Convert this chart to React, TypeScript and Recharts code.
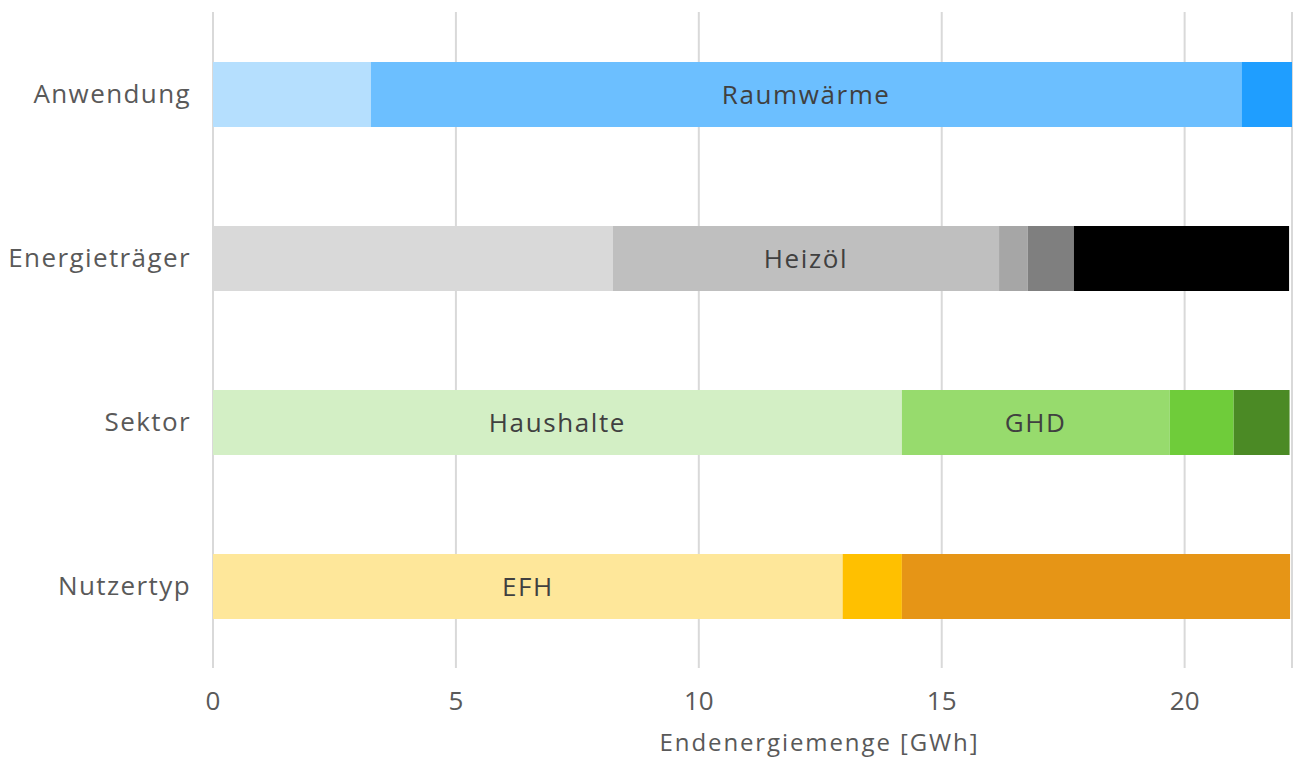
import * as React from "react";
import { BarChart, Bar, XAxis, YAxis, CartesianGrid, Cell, LabelList } from "recharts";

// categories (top to bottom)
const categories = ["Anwendung", "Energieträger", "Sektor", "Nutzertyp"];

// stacked segments, GWh
const seg1 = [3.25, 8.23, 14.18, 12.96];
const seg2 = [17.92, 7.95, 5.51, 1.22];
const seg3 = [1.04, 0.59, 1.32, 7.99];
const seg4 = [0, 0.95, 1.15, 0];
const seg5 = [0, 4.43, 0, 0];

const segLabels1 = ["", "", "Haushalte", "EFH"];
const segLabels2 = ["Raumwärme", "Heizöl", "GHD", ""];

const xTicks = [0, 5, 10, 15, 20];

// colours per row, one list per segment
const colors1 = ["#b5dffe", "#d9d9d9", "#d3efc5", "#fee79a"];
const colors2 = ["#6cbfff", "#bfbfbf", "#97db6d", "#ffc000"];
const colors3 = ["#1f9eff", "#a6a6a6", "#6fcc3a", "#e69516"];
const colors4 = ["#000", "#7f7f7f", "#4b8a25", "#000"];
const colors5 = ["#000", "#000000", "#000", "#000"];

const data = categories.map((name, i) => ({
  name,
  s1: seg1[i],
  s2: seg2[i],
  s3: seg3[i],
  s4: seg4[i],
  s5: seg5[i],
  l1: segLabels1[i],
  l2: segLabels2[i],
}));

const xMax = Math.max(...data.map((d) => d.s1 + d.s2 + d.s3 + d.s4 + d.s5));

const series = [
  { key: "s1", colors: colors1, label: "l1" },
  { key: "s2", colors: colors2, label: "l2" },
  { key: "s3", colors: colors3 },
  { key: "s4", colors: colors4 },
  { key: "s5", colors: colors5 },
];

const textColor = "#595959";

export default function App() {
  return (
    <div style={{ position: "absolute", left: 0, top: 0, fontFamily: "'Open Sans', sans-serif" }}>
      <BarChart
        width={1298}
        height={760}
        data={data}
        layout="vertical"
        margin={{ top: 12, right: 6, left: 0, bottom: 0 }}
        barSize={65}
      >
        <CartesianGrid horizontal={false} stroke="#d9d9d9" strokeWidth={2} />
        <XAxis
          type="number"
          domain={[0, xMax]}
          allowDataOverflow
          ticks={xTicks}
          axisLine={false}
          tickLine={false}
          tickSize={0}
          tickMargin={24}
          height={92}
          tick={{ fontSize: 26, fill: textColor }}
          label={{
            value: "Endenergiemenge [GWh]",
            position: "insideBottom",
            offset: 9,
            dx: 67,
            style: { fontSize: 24, fill: textColor, letterSpacing: 1.9 },
          }}
        />
        <YAxis
          type="category"
          dataKey="name"
          width={213}
          axisLine={false}
          tickLine={false}
          tickSize={0}
          tickMargin={22}
          tick={{ fontSize: 26, fill: textColor, letterSpacing: 1.4 }}
        />
        {series.map((s) => (
          <Bar key={s.key} dataKey={s.key} stackId="a" isAnimationActive={false}>
            {data.map((_, i) => (
              <Cell key={`c-${s.key}-${i}`} fill={s.colors[i]} />
            ))}
            {s.label && (
              <LabelList
                dataKey={s.label}
                position="center"
                style={{ fontSize: 26, fill: "#404040", letterSpacing: 1.6 }}
              />
            )}
          </Bar>
        ))}
      </BarChart>
    </div>
  );
}
